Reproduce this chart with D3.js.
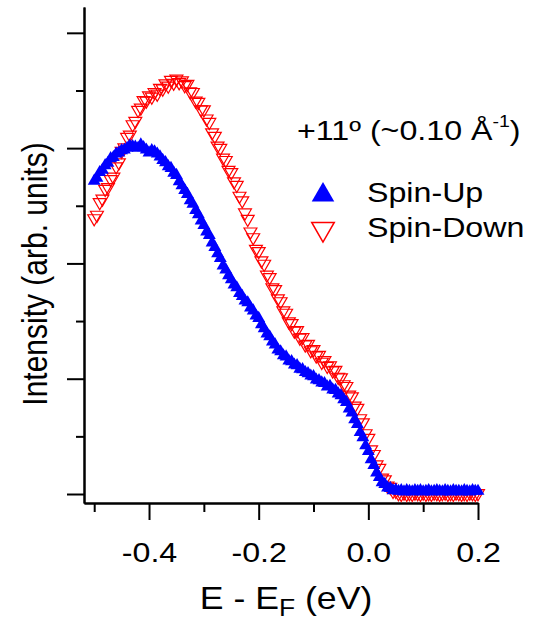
<!DOCTYPE html>
<html>
<head>
<meta charset="utf-8">
<script src="https://cdnjs.cloudflare.com/ajax/libs/d3/7.8.5/d3.min.js"></script>
<style>
  body { margin: 0; background: #fff; }
  text { font-family: "Liberation Sans", Arial, sans-serif; fill: #000; }
</style>
</head>
<body>
<svg id="chart"></svg>
<script>
const width = 539;
const height = 620;

// binding energy E - E_F (eV)
const energy = [
  -0.500, -0.495, -0.490, -0.485, -0.480, -0.475, -0.470, -0.465, -0.460, -0.455,
  -0.450, -0.445, -0.440, -0.435, -0.430, -0.425, -0.420, -0.415, -0.410, -0.405,
  -0.400, -0.395, -0.390, -0.385, -0.380, -0.375, -0.370, -0.365, -0.360, -0.355,
  -0.350, -0.345, -0.340, -0.335, -0.330, -0.325, -0.320, -0.315, -0.310, -0.305,
  -0.300, -0.295, -0.290, -0.285, -0.280, -0.275, -0.270, -0.265, -0.260, -0.255,
  -0.250, -0.245, -0.240, -0.235, -0.230, -0.225, -0.220, -0.215, -0.210, -0.205,
  -0.200, -0.195, -0.190, -0.185, -0.180, -0.175, -0.170, -0.165, -0.160, -0.155,
  -0.150, -0.145, -0.140, -0.135, -0.130, -0.125, -0.120, -0.115, -0.110, -0.105,
  -0.100, -0.095, -0.090, -0.085, -0.080, -0.075, -0.070, -0.065, -0.060, -0.055,
  -0.050, -0.045, -0.040, -0.035, -0.030, -0.025, -0.020, -0.015, -0.010, -0.005,
   0.000,  0.005,  0.010,  0.015,  0.020,  0.025,  0.030,  0.035,  0.040,  0.045,
   0.050,  0.055,  0.060,  0.065,  0.070,  0.075,  0.080,  0.085,  0.090,  0.095,
   0.100,  0.105,  0.110,  0.115,  0.120,  0.125,  0.130,  0.135,  0.140,  0.145,
   0.150,  0.155,  0.160,  0.165,  0.170,  0.175,  0.180,  0.185,  0.190,  0.195,
   0.200
];

const spinUp = [
  2.715, 2.740, 2.790, 2.810, 2.850, 2.870, 2.910, 2.920, 2.950, 2.960,
  2.980, 2.985, 3.000, 3.020, 3.015, 3.010, 3.000, 3.030, 3.005, 2.985,
  2.960, 2.980, 2.970, 2.950, 2.925, 2.895, 2.875, 2.840, 2.825, 2.785,
  2.765, 2.710, 2.675, 2.635, 2.600, 2.545, 2.515, 2.460, 2.425, 2.370,
  2.330, 2.275, 2.245, 2.180, 2.140, 2.085, 2.045, 1.980, 1.945, 1.895,
  1.860, 1.815, 1.790, 1.740, 1.715, 1.675, 1.660, 1.615, 1.590, 1.545,
  1.525, 1.470, 1.435, 1.390, 1.365, 1.320, 1.295, 1.250, 1.235, 1.200,
  1.190, 1.155, 1.150, 1.120, 1.115, 1.085, 1.080, 1.055, 1.045, 1.025,
  1.020, 0.990, 0.985, 0.965, 0.960, 0.930, 0.935, 0.905, 0.900, 0.870,
  0.855, 0.820, 0.795, 0.740, 0.705, 0.645, 0.605, 0.535, 0.490, 0.420,
  0.370, 0.300, 0.250, 0.185, 0.145, 0.100, 0.085, 0.055, 0.050, 0.030,
  0.035, 0.025, 0.030, 0.020, 0.030, 0.025, 0.020, 0.030, 0.025, 0.030,
  0.020, 0.025, 0.030, 0.020, 0.025, 0.030, 0.025, 0.020, 0.030, 0.025,
  0.020, 0.030, 0.025, 0.025, 0.020, 0.030, 0.025, 0.020, 0.030, 0.025,
  0.025
];

const spinDown = [
  2.390, 2.420, 2.530, 2.560, 2.645, 2.660, 2.730, 2.750, 2.840, 2.875,
  2.975, 3.005, 3.095, 3.115, 3.205, 3.235, 3.330, 3.350, 3.415, 3.410,
  3.455, 3.445, 3.485, 3.470, 3.520, 3.515, 3.560, 3.540, 3.590, 3.565,
  3.600, 3.570, 3.585, 3.545, 3.555, 3.490, 3.485, 3.410, 3.400, 3.335,
  3.335, 3.255, 3.225, 3.135, 3.105, 3.020, 3.000, 2.915, 2.895, 2.810,
  2.790, 2.710, 2.680, 2.585, 2.545, 2.440, 2.385, 2.275, 2.225, 2.125,
  2.105, 2.025, 1.995, 1.900, 1.880, 1.790, 1.775, 1.695, 1.670, 1.590,
  1.570, 1.495, 1.480, 1.415, 1.420, 1.355, 1.360, 1.295, 1.300, 1.245,
  1.255, 1.200, 1.205, 1.145, 1.160, 1.110, 1.115, 1.070, 1.075, 1.015,
  1.010, 0.950, 0.935, 0.860, 0.845, 0.765, 0.745, 0.655, 0.620, 0.525,
  0.485, 0.385, 0.345, 0.255, 0.225, 0.140, 0.125, 0.070, 0.060, 0.025,
  0.025, 0.005, 0.000, 0.010, 0.000, 0.005, 0.000, 0.010, 0.005, 0.000,
  0.010, 0.000, 0.005, 0.000, 0.010, 0.005, 0.000, 0.005, 0.010, 0.000,
  0.005, 0.000, 0.010, 0.005, 0.000, 0.005, 0.000, 0.010, 0.005, 0.000,
  0.005
];

const xMajorTicks = [-0.4, -0.2, 0.0, 0.2];
const xMinorTicks = [-0.5, -0.3, -0.1, 0.1];
const yMajorTicks = [0, 1, 2, 3, 4];
const yMinorTicks = [0.5, 1.5, 2.5, 3.5];

const seriesNames = ["Spin-Up", "Spin-Down"];
const seriesColors = ["#0000ff", "#ff0000"];
const annotation = "+11º (~0.10 Å";

const stretch = 1.15; // glyphs in the figure are drawn wider than normal

const svg = d3.select("#chart")
  .attr("width", width)
  .attr("height", height);

const x = d3.scaleLinear()
  .domain([-0.5186, 0.2])
  .range([84, 478]);

const y = d3.scaleLinear()
  .domain([-0.078, 4.224])
  .range([503, 7]);

// axes
const styleAxis = g => {
  g.select(".domain").attr("stroke", "#000").attr("stroke-width", 2);
  g.selectAll(".tick line").attr("stroke", "#000").attr("stroke-width", 2);
};

svg.append("g")
  .attr("transform", "translate(0,503)")
  .call(d3.axisBottom(x).tickValues(xMinorTicks).tickSize(9).tickSizeOuter(0).tickFormat(""))
  .call(styleAxis);

const xAxis = svg.append("g")
  .attr("transform", "translate(0,503)")
  .call(d3.axisBottom(x).tickValues(xMajorTicks).tickSize(17).tickSizeOuter(0)
    .tickFormat(d => d.toFixed(1)))
  .call(styleAxis);

xAxis.selectAll(".tick text")
  .attr("y", 59)
  .attr("dy", 0)
  .attr("transform", `scale(${stretch},1)`)
  .style("font-size", "28px")
  .style("font-family", "'Liberation Sans', Arial, sans-serif")
  .attr("fill", "#000");

svg.append("g")
  .attr("transform", "translate(84,0)")
  .call(d3.axisLeft(y).tickValues(yMinorTicks).tickSize(8).tickSizeOuter(0).tickFormat(""))
  .call(styleAxis);

svg.append("g")
  .attr("transform", "translate(84,0)")
  .call(d3.axisLeft(y).tickValues(yMajorTicks).tickSize(17).tickSizeOuter(0).tickFormat(""))
  .call(styleAxis);

// axis titles
const xTitle = svg.append("g")
  .attr("transform", `translate(286,609) scale(${stretch},1)`)
  .append("text")
  .attr("text-anchor", "middle")
  .style("font-size", "31px");
xTitle.append("tspan").text("E - E");
xTitle.append("tspan").attr("dy", 7).style("font-size", "23px").text("F");
xTitle.append("tspan").attr("dy", -7).text(" (eV)");

svg.append("g")
  .attr("transform", `translate(47,274) rotate(-90) scale(1,${stretch})`)
  .append("text")
  .attr("text-anchor", "middle")
  .style("font-size", "30px")
  .text("Intensity (arb. units)");

// data
const rows = energy.map((e, i) => ({ e, up: spinUp[i], down: spinDown[i] }));
const marker = d3.symbol().type(d3.symbolTriangle).size(72);

svg.append("g")
  .selectAll("path")
  .data(rows)
  .join("path")
  .attr("d", marker)
  .attr("transform", d => `translate(${x(d.e)},${y(d.down)}) rotate(180)`)
  .attr("fill", "none")
  .attr("stroke", seriesColors[1])
  .attr("stroke-width", 1.2);

svg.append("g")
  .selectAll("path")
  .data(rows)
  .join("path")
  .attr("d", marker)
  .attr("transform", d => `translate(${x(d.e)},${y(d.up)})`)
  .attr("fill", seriesColors[0]);

// legend
const note = svg.append("g")
  .attr("transform", `translate(297,140) scale(${stretch},1)`)
  .append("text")
  .style("font-size", "28px");
note.append("tspan").text(annotation);
note.append("tspan").attr("dy", -13).style("font-size", "17px").text("-1");
note.append("tspan").attr("dy", 13).text(")");

const legendMarker = d3.symbol().type(d3.symbolTriangle).size(220);

const legend = svg.append("g");
seriesNames.forEach((name, i) => {
  const row = legend.append("g").attr("transform", `translate(0,${i * 35})`);
  row.append("path")
    .attr("d", legendMarker)
    .attr("transform", i === 0 ? "translate(323,195)" : "translate(323,194) rotate(180)")
    .attr("fill", i === 0 ? seriesColors[0] : "none")
    .attr("stroke", i === 0 ? "none" : seriesColors[1])
    .attr("stroke-width", 1.5);
  row.append("g")
    .attr("transform", `translate(367,202) scale(${stretch},1)`)
    .append("text")
    .style("font-size", "28px")
    .text(name);
});
</script>
</body>
</html>
